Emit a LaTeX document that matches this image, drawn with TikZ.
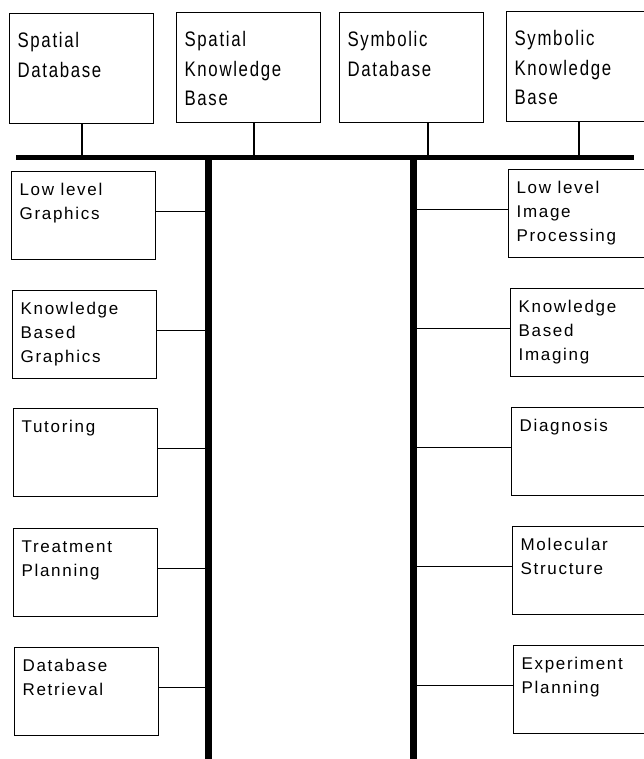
\documentclass[tikz,border=0pt]{standalone}
\usepackage{fontspec}
\setmainfont{Liberation Sans}[LetterSpace=10]
\newfontfamily\tallfont{Liberation Sans}[LetterSpace=8, FakeStretch=0.8]
\usetikzlibrary{positioning, calc}

\newcommand{\toptext}[1]{\parbox[c][110pt][t]{128pt}{\raggedright\rule{0pt}{34pt}#1}}
\newcommand{\sidetext}[1]{\parbox[c][88pt][t]{128pt}{\raggedright\rule{0pt}{24pt}#1}}

\begin{document}
\begin{tikzpicture}[x=1pt, y=-1pt,
    box/.style={draw, line width=1.2pt, anchor=north west, inner xsep=8pt, inner ysep=0pt},
    topbox/.style={box, font=\tallfont\fontsize{21}{29.5}\selectfont},
    sidebox/.style={box, font=\fontsize{17}{24}\selectfont},
    link/.style={line width=1.2pt},
    bus/.style={line width=5pt},
    spine/.style={line width=7pt}]
    \clip (0,0) rectangle (644,759);

    % Datenbasen oben
    \node[topbox] (sdb) at (9,13) {\toptext{Spatial\\Database}};
    \node[topbox] (skb) at (176,12) {\toptext{Spatial\\Knowledge\\Base}};
    \node[topbox] (ydb) at (339,12) {\toptext{Symbolic\\Database}};
    \node[topbox] (ykb) at (506,11) {\toptext{Symbolic\\Knowledge\\Base}};

    % Bus und Stämme
    \coordinate (busW) at (16,158);
    \coordinate (busE) at (634,158);
    \coordinate (t1) at (82,158);
    \coordinate (t2) at (254,158);
    \coordinate (t3) at (428,158);
    \coordinate (t4) at (579,158);
    \coordinate (lspine) at (208,158);
    \coordinate (lfoot) at (208,759);
    \coordinate (rspine) at (413,158);
    \coordinate (rfoot) at (413,759);

    \draw[bus] (busW) -- (busE);
    \draw[spine] (lspine) -- (lfoot);
    \draw[spine] (rspine) -- (rfoot);
    \draw[link] (sdb.south -| t1) -- (t1);
    \draw[link] (skb.south -| t2) -- (t2);
    \draw[link] (ydb.south -| t3) -- (t3);
    \draw[link] (ykb.south -| t4) -- (t4);

    % linke Seite
    \node[sidebox] (llg) at (11,171) {\sidetext{Low level\\Graphics}};
    \node[sidebox] (kbg) at (12,290) {\sidetext{Knowledge\\Based\\Graphics}};
    \node[sidebox] (tut) at (13,408) {\sidetext{Tutoring}};
    \node[sidebox] (tpl) at (13,528) {\sidetext{Treatment\\Planning}};
    \node[sidebox] (dbr) at (14,647) {\sidetext{Database\\Retrieval}};

    % rechte Seite
    \node[sidebox] (lip) at (508,169) {\sidetext{Low level\\Image\\Processing}};
    \node[sidebox] (kbi) at (510,288) {\sidetext{Knowledge\\Based\\Imaging}};
    \node[sidebox] (dia) at (511,407) {\sidetext{Diagnosis}};
    \node[sidebox] (mol) at (512,526) {\sidetext{Molecular\\Structure}};
    \node[sidebox] (exp) at (513,645) {\sidetext{Experiment\\Planning}};

    \draw[link] ([yshift=4pt]llg.east) -- ([yshift=4pt]llg.east -| lspine);
    \draw[link] ([yshift=4pt]kbg.east) -- ([yshift=4pt]kbg.east -| lspine);
    \draw[link] ([yshift=4pt]tut.east) -- ([yshift=4pt]tut.east -| lspine);
    \draw[link] ([yshift=4pt]tpl.east) -- ([yshift=4pt]tpl.east -| lspine);
    \draw[link] ([yshift=4pt]dbr.east) -- ([yshift=4pt]dbr.east -| lspine);
    \draw[link] ([yshift=4pt]lip.west) -- ([yshift=4pt]lip.west -| rspine);
    \draw[link] ([yshift=4pt]kbi.west) -- ([yshift=4pt]kbi.west -| rspine);
    \draw[link] ([yshift=4pt]dia.west) -- ([yshift=4pt]dia.west -| rspine);
    \draw[link] ([yshift=4pt]mol.west) -- ([yshift=4pt]mol.west -| rspine);
    \draw[link] ([yshift=4pt]exp.west) -- ([yshift=4pt]exp.west -| rspine);
\end{tikzpicture}
\end{document}
